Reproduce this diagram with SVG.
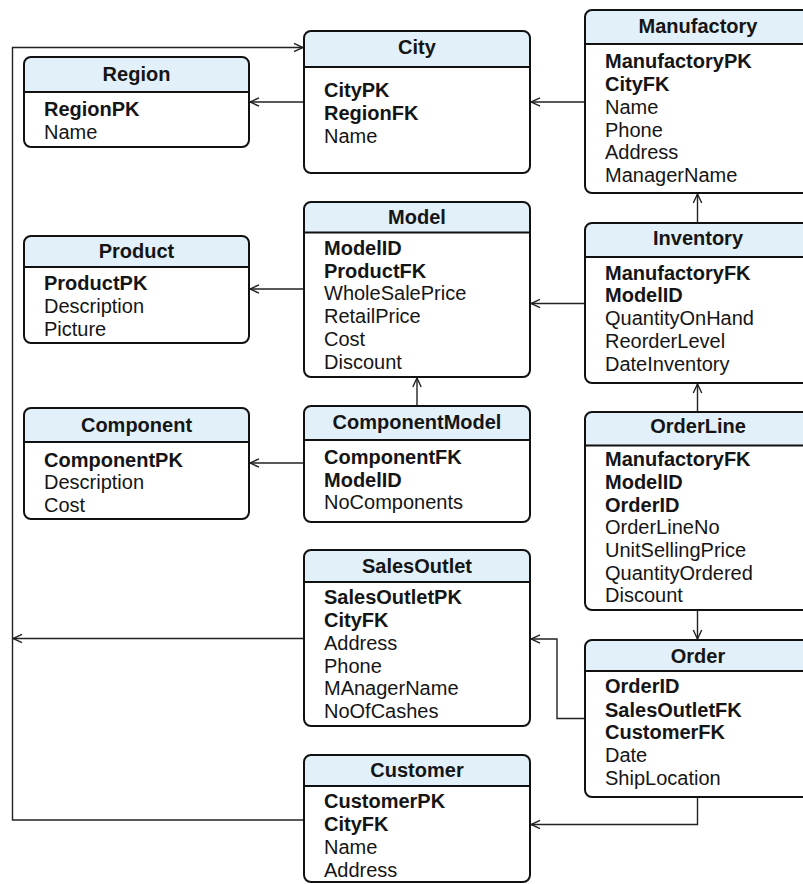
<svg xmlns="http://www.w3.org/2000/svg" width="803" height="884" viewBox="0 0 803 884">
  <style>
    .box { fill: #ffffff; stroke: none; }
    .frame { fill: none; stroke: #111111; stroke-width: 2; }
    .head { fill: #e2f0fa; stroke: none; }
    .sep { stroke: #111111; stroke-width: 2; }
    text { font-family: "Liberation Sans", Arial, Helvetica, sans-serif; font-size: 20px; fill: #151515; }
    .title { font-weight: bold; text-anchor: middle; }
    .key { font-weight: bold; }
    .wire { fill: none; stroke: #222222; stroke-width: 1.4; marker-end: url(#arrow); }
  </style>
  <defs>
    <marker id="arrow" viewBox="0 0 12 12" refX="11" refY="6" markerWidth="12" markerHeight="12" markerUnits="userSpaceOnUse" orient="auto">
      <path d="M2,1.8 L11,6 L2,10.2" fill="none" stroke="#222222" stroke-width="1.4"/>
    </marker>
  </defs>

  <rect width="803" height="884" fill="#ffffff"/>

  <!-- relationships (foreign key -> referenced table) -->
  <g id="connectors">
    <path class="wire" d="M304,820 H12.5 V47.5 H303"/>
    <path class="wire" d="M304,638.5 H13"/>
    <path class="wire" d="M304,102 H250"/>
    <path class="wire" d="M585,102 H531"/>
    <path class="wire" d="M697.5,223 V194"/>
    <path class="wire" d="M585,303.5 H531"/>
    <path class="wire" d="M304,289 H250"/>
    <path class="wire" d="M417,406 V378"/>
    <path class="wire" d="M304,463 H250"/>
    <path class="wire" d="M697.5,412 V384"/>
    <path class="wire" d="M697.5,610 V639"/>
    <path class="wire" d="M585,718.5 H557 V639 H531"/>
    <path class="wire" d="M697.5,797 V824.5 H531"/>
  </g>

  <g id="region">
    <rect class="box" x="24" y="57" width="225" height="90" rx="7"/>
    <path class="head" d="M24,92 V64 Q24,57 31,57 H242 Q249,57 249,64 V92 Z"/>
    <line class="sep" x1="24" y1="92" x2="249" y2="92"/>
    <rect class="frame" x="24" y="57" width="225" height="90" rx="7"/>
    <text class="title" x="136.5" y="81">Region</text>
    <text class="key" x="44" y="116">RegionPK</text>
    <text x="44" y="138.5">Name</text>
  </g>

  <g id="city">
    <rect class="box" x="304" y="31" width="226" height="142" rx="7"/>
    <path class="head" d="M304,67 V38 Q304,31 311,31 H523 Q530,31 530,38 V67 Z"/>
    <line class="sep" x1="304" y1="67" x2="530" y2="67"/>
    <rect class="frame" x="304" y="31" width="226" height="142" rx="7"/>
    <text class="title" x="417" y="54">City</text>
    <text class="key" x="324" y="97">CityPK</text>
    <text class="key" x="324" y="120">RegionFK</text>
    <text x="324" y="143">Name</text>
  </g>

  <g id="manufactory">
    <rect class="box" x="585" y="10" width="226" height="183" rx="7"/>
    <path class="head" d="M585,44 V17 Q585,10 592,10 H804 Q811,10 811,17 V44 Z"/>
    <line class="sep" x1="585" y1="44" x2="811" y2="44"/>
    <rect class="frame" x="585" y="10" width="226" height="183" rx="7"/>
    <text class="title" x="698" y="33">Manufactory</text>
    <text class="key" x="605" y="68">ManufactoryPK</text>
    <text class="key" x="605" y="91">CityFK</text>
    <text x="605" y="113.5">Name</text>
    <text x="605" y="136.5">Phone</text>
    <text x="605" y="159">Address</text>
    <text x="605" y="182">ManagerName</text>
  </g>

  <g id="product">
    <rect class="box" x="24" y="236" width="225" height="107" rx="7"/>
    <path class="head" d="M24,267 V243 Q24,236 31,236 H242 Q249,236 249,243 V267 Z"/>
    <line class="sep" x1="24" y1="267" x2="249" y2="267"/>
    <rect class="frame" x="24" y="236" width="225" height="107" rx="7"/>
    <text class="title" x="136.5" y="258">Product</text>
    <text class="key" x="44" y="290">ProductPK</text>
    <text x="44" y="313">Description</text>
    <text x="44" y="335.5">Picture</text>
  </g>

  <g id="model">
    <rect class="box" x="304" y="202" width="226" height="175" rx="7"/>
    <path class="head" d="M304,232.5 V209 Q304,202 311,202 H523 Q530,202 530,209 V232.5 Z"/>
    <line class="sep" x1="304" y1="232.5" x2="530" y2="232.5"/>
    <rect class="frame" x="304" y="202" width="226" height="175" rx="7"/>
    <text class="title" x="417" y="223.5">Model</text>
    <text class="key" x="324" y="254.5">ModelID</text>
    <text class="key" x="324" y="277.5">ProductFK</text>
    <text x="324" y="300">WholeSalePrice</text>
    <text x="324" y="323">RetailPrice</text>
    <text x="324" y="346">Cost</text>
    <text x="324" y="368.5">Discount</text>
  </g>

  <g id="inventory">
    <rect class="box" x="585" y="223" width="226" height="160" rx="7"/>
    <path class="head" d="M585,257 V230 Q585,223 592,223 H804 Q811,223 811,230 V257 Z"/>
    <line class="sep" x1="585" y1="257" x2="811" y2="257"/>
    <rect class="frame" x="585" y="223" width="226" height="160" rx="7"/>
    <text class="title" x="698" y="245">Inventory</text>
    <text class="key" x="605" y="280">ManufactoryFK</text>
    <text class="key" x="605" y="302">ModelID</text>
    <text x="605" y="325">QuantityOnHand</text>
    <text x="605" y="348">ReorderLevel</text>
    <text x="605" y="371">DateInventory</text>
  </g>

  <g id="component">
    <rect class="box" x="24" y="408" width="225" height="111" rx="7"/>
    <path class="head" d="M24,442 V415 Q24,408 31,408 H242 Q249,408 249,415 V442 Z"/>
    <line class="sep" x1="24" y1="442" x2="249" y2="442"/>
    <rect class="frame" x="24" y="408" width="225" height="111" rx="7"/>
    <text class="title" x="136.5" y="432">Component</text>
    <text class="key" x="44" y="466.5">ComponentPK</text>
    <text x="44" y="489">Description</text>
    <text x="44" y="512">Cost</text>
  </g>

  <g id="componentmodel">
    <rect class="box" x="304" y="406" width="226" height="116" rx="7"/>
    <path class="head" d="M304,440 V413 Q304,406 311,406 H523 Q530,406 530,413 V440 Z"/>
    <line class="sep" x1="304" y1="440" x2="530" y2="440"/>
    <rect class="frame" x="304" y="406" width="226" height="116" rx="7"/>
    <text class="title" x="417" y="428.5">ComponentModel</text>
    <text class="key" x="324" y="464">ComponentFK</text>
    <text class="key" x="324" y="487">ModelID</text>
    <text x="324" y="508.5">NoComponents</text>
  </g>

  <g id="orderline">
    <rect class="box" x="585" y="412" width="226" height="198" rx="7"/>
    <path class="head" d="M585,445.5 V419 Q585,412 592,412 H804 Q811,412 811,419 V445.5 Z"/>
    <line class="sep" x1="585" y1="445.5" x2="811" y2="445.5"/>
    <rect class="frame" x="585" y="412" width="226" height="198" rx="7"/>
    <text class="title" x="698" y="433">OrderLine</text>
    <text class="key" x="605" y="465.5">ManufactoryFK</text>
    <text class="key" x="605" y="488.5">ModelID</text>
    <text class="key" x="605" y="511.5">OrderID</text>
    <text x="605" y="533.5">OrderLineNo</text>
    <text x="605" y="556.5">UnitSellingPrice</text>
    <text x="605" y="579.5">QuantityOrdered</text>
    <text x="605" y="602">Discount</text>
  </g>

  <g id="salesoutlet">
    <rect class="box" x="304" y="550" width="226" height="176" rx="7"/>
    <path class="head" d="M304,582 V557 Q304,550 311,550 H523 Q530,550 530,557 V582 Z"/>
    <line class="sep" x1="304" y1="582" x2="530" y2="582"/>
    <rect class="frame" x="304" y="550" width="226" height="176" rx="7"/>
    <text class="title" x="417" y="572.5">SalesOutlet</text>
    <text class="key" x="324" y="603.5">SalesOutletPK</text>
    <text class="key" x="324" y="626.5">CityFK</text>
    <text x="324" y="649.5">Address</text>
    <text x="324" y="672.5">Phone</text>
    <text x="324" y="695">MAnagerName</text>
    <text x="324" y="717.5">NoOfCashes</text>
  </g>

  <g id="order">
    <rect class="box" x="585" y="640" width="226" height="157" rx="7"/>
    <path class="head" d="M585,671 V647 Q585,640 592,640 H804 Q811,640 811,647 V671 Z"/>
    <line class="sep" x1="585" y1="671" x2="811" y2="671"/>
    <rect class="frame" x="585" y="640" width="226" height="157" rx="7"/>
    <text class="title" x="698" y="662.5">Order</text>
    <text class="key" x="605" y="693">OrderID</text>
    <text class="key" x="605" y="716.5">SalesOutletFK</text>
    <text class="key" x="605" y="739">CustomerFK</text>
    <text x="605" y="762">Date</text>
    <text x="605" y="784.5">ShipLocation</text>
  </g>

  <g id="customer">
    <rect class="box" x="304" y="755" width="226" height="127" rx="7"/>
    <path class="head" d="M304,786 V762 Q304,755 311,755 H523 Q530,755 530,762 V786 Z"/>
    <line class="sep" x1="304" y1="786" x2="530" y2="786"/>
    <rect class="frame" x="304" y="755" width="226" height="127" rx="7"/>
    <text class="title" x="417" y="776.5">Customer</text>
    <text class="key" x="324" y="808">CustomerPK</text>
    <text class="key" x="324" y="831">CityFK</text>
    <text x="324" y="853.5">Name</text>
    <text x="324" y="876.5">Address</text>
  </g>
</svg>
